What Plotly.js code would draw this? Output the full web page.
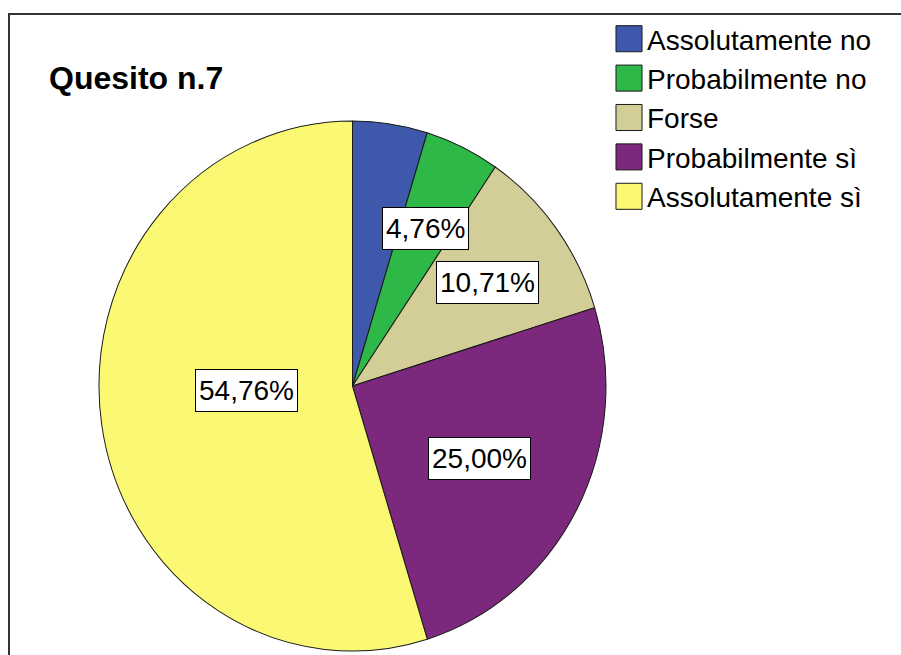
<!DOCTYPE html>
<html>
<head>
<meta charset="utf-8">
<script src="https://cdn.plot.ly/plotly-3.0.1.min.js"></script>
<style>
  html, body { margin: 0; padding: 0; background: #fff; }
  #chart { width: 901px; height: 655px; }
</style>
</head>
<body>
<div id="chart"></div>
<script>
// ---- data ----
const categories = ['Assolutamente no', 'Probabilmente no', 'Forse', 'Probabilmente sì', 'Assolutamente sì'];
const percentages = [4.76, 4.76, 10.71, 25.00, 54.76];
const labelTexts = ['4,76%', '4,76%', '10,71%', '25,00%', '54,76%'];
const chartTitle = 'Quesito n.7';

// ---- style ----
const colors = ['#3E58AC', '#2EB848', '#D3CE97', '#7C287D', '#FBF873'];
const labelShown = [false, true, true, true, true];
const labelRadius = [0.66, 0.66, 0.66, 0.57, 0.42];
const labelAngleShift = [0, 0, 0, 1, 6.5];

const W = 901, H = 655;
const cx = 352.5, cy = 386, rx = 253.5, ry = 265;
const stretch = ry / rx;

// label positions from the pie geometry
const total = percentages.reduce((a, b) => a + b, 0);
let cum = 0;
const annotations = [];
percentages.forEach((v, i) => {
  const mid = (cum + v / 2) / total;
  cum += v;
  if (!labelShown[i]) return;
  const th = (mid * 360 + labelAngleShift[i]) * Math.PI / 180;
  const px = cx + labelRadius[i] * rx * Math.sin(th);
  const py = cy - labelRadius[i] * ry * Math.cos(th);
  annotations.push({
    xref: 'paper', yref: 'paper', x: px / W, y: 1 - py / H,
    xanchor: 'center', yanchor: 'middle', showarrow: false,
    text: labelTexts[i],
    font: { family: 'Liberation Sans, Arial, sans-serif', size: 28, color: '#000' },
    height: 35,
    bgcolor: '#fff', bordercolor: '#000', borderwidth: 1, borderpad: 3
  });
});

const trace = {
  type: 'pie',
  labels: categories,
  values: percentages,
  sort: false,
  direction: 'clockwise',
  rotation: 0,
  textinfo: 'none',
  hoverinfo: 'label+percent',
  marker: { colors: colors, line: { color: '#1a1a1a', width: 1 } },
  domain: { x: [(cx - rx) / W, (cx + rx) / W], y: [1 - (cy + rx) / H, 1 - (cy - rx) / H] }
};

const layout = {
  width: W, height: H,
  margin: { l: 0, r: 0, t: 0, b: 0 },
  paper_bgcolor: '#fff',
  font: { family: 'Liberation Sans, Arial, sans-serif', color: '#000' },
  title: {
    text: chartTitle,
    font: { family: 'Liberation Sans, Arial, sans-serif', size: 32, weight: 'bold', color: '#000' },
    x: 49 / W, xanchor: 'left', xref: 'paper',
    y: 1 - 78 / H, yanchor: 'middle', yref: 'paper'
  },
  showlegend: true,
  legend: {
    x: 607 / W, xanchor: 'left', y: 1 - 14 / H, yanchor: 'top',
    bgcolor: 'rgba(0,0,0,0)', borderwidth: 0,
    font: { family: 'Liberation Sans, Arial, sans-serif', size: 28, color: '#000' },
    traceorder: 'normal'
  },
  shapes: [{
    type: 'rect', xref: 'paper', yref: 'paper',
    x0: 9 / W, x1: 1.05, y0: -0.05, y1: 1 - 14 / H,
    line: { color: '#333', width: 2 }, fillcolor: 'rgba(0,0,0,0)', layer: 'below'
  }],
  annotations: annotations
};

Plotly.newPlot('chart', [trace], layout, { displayModeBar: false, staticPlot: true }).then(() => {
  document.querySelectorAll('.pielayer').forEach(g => {
    g.style.transform = `translate(0px, ${cy}px) scale(1, ${stretch}) translate(0px, ${-cy}px)`;
  });
  document.querySelectorAll('.legend .legendpoints path').forEach(p => {
    p.style.transform = 'translate(22px, 0px) scale(2.17)';
    p.style.vectorEffect = 'non-scaling-stroke';
    p.style.strokeWidth = '1px';
    p.style.stroke = '#1a1a1a';
  });
});
</script>
</body>
</html>
